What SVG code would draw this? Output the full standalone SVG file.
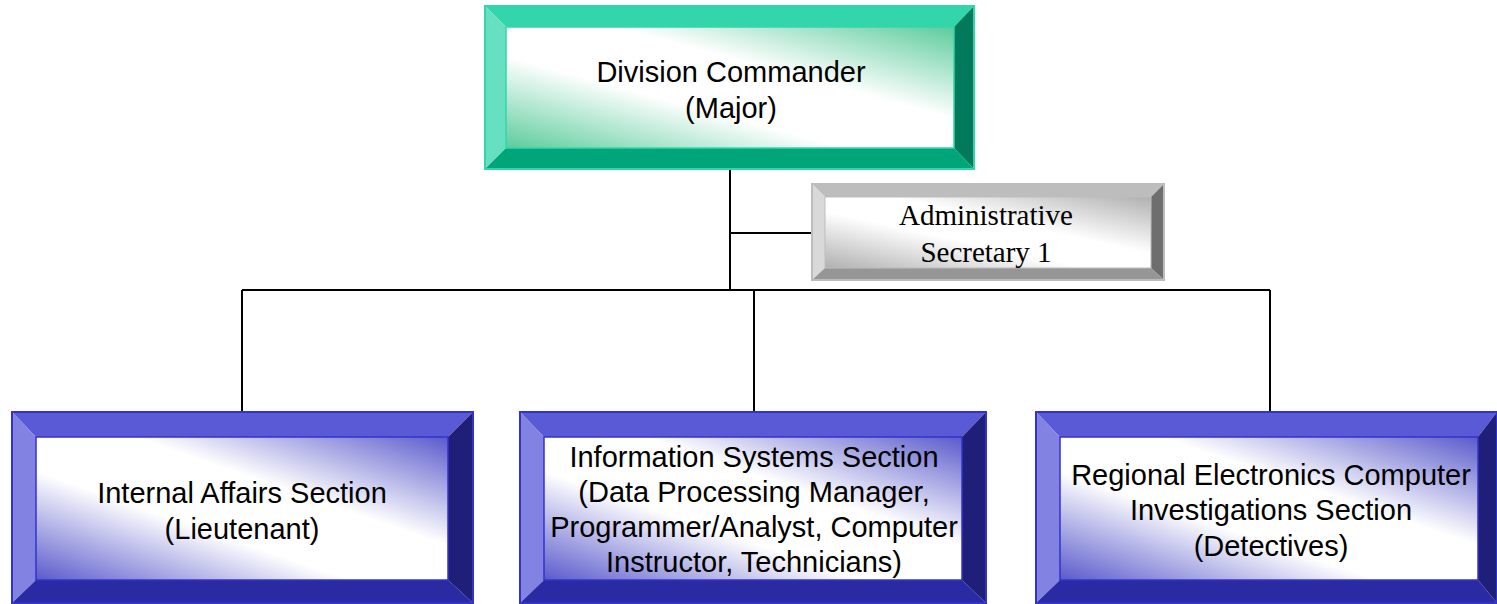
<svg xmlns="http://www.w3.org/2000/svg" width="1497" height="604" viewBox="0 0 1497 604">
<style>
.lbl{font-family:"Liberation Sans",Arial,sans-serif;font-size:29px;fill:#000;text-anchor:middle}
.ser{font-family:"Liberation Serif","Times New Roman",serif;font-size:29px;fill:#000;text-anchor:middle}
.conn{stroke:#000;stroke-width:2;fill:none}
.g-top{fill:#33d6aa}.g-left{fill:#66e0c0}.g-right{fill:#007a5a}.g-bot{fill:#00a67a}
.g-out{fill:none;stroke:#33d6aa;stroke-width:2}
.g-face{fill:url(#gGreen);stroke:#33d6aa;stroke-width:1.5}
.b-top{fill:#5a5ad6}.b-left{fill:#8282e2}.b-right{fill:#1f1f7a}.b-bot{fill:#2a2aa2}
.b-out{fill:none;stroke:#3333cc;stroke-width:2}
.b-face{fill:url(#gBlue);stroke:#3333cc;stroke-width:1.5}
.s-top{fill:#bdbdbd}.s-left{fill:#d9d9d9}.s-right{fill:#6e6e6e}.s-bot{fill:#969696}
.s-out{fill:none;stroke:#bdbdbd;stroke-width:2}
.s-face{fill:url(#gGray);stroke:#bdbdbd;stroke-width:1}
</style>
<defs>
<linearGradient id="gGreen" x1="1" y1="0" x2="0" y2="1">
<stop offset="0" stop-color="#5ccc9c"/><stop offset="0.38" stop-color="#ffffff"/><stop offset="0.62" stop-color="#ffffff"/><stop offset="1" stop-color="#5ccc9c"/>
</linearGradient>
<linearGradient id="gBlue" x1="1" y1="0" x2="0" y2="1">
<stop offset="0" stop-color="#5a5acc"/><stop offset="0.38" stop-color="#ffffff"/><stop offset="0.62" stop-color="#ffffff"/><stop offset="1" stop-color="#5a5acc"/>
</linearGradient>
<linearGradient id="gGray" x1="1" y1="0" x2="0" y2="1">
<stop offset="0" stop-color="#b0b0b0"/><stop offset="0.4" stop-color="#ffffff"/><stop offset="0.6" stop-color="#ffffff"/><stop offset="1" stop-color="#b0b0b0"/>
</linearGradient>
</defs>

<g id="connectors">
<line class="conn" x1="730" y1="169" x2="730" y2="290"/>
<line class="conn" x1="730" y1="233" x2="812" y2="233"/>
<line class="conn" x1="242" y1="290" x2="1270" y2="290"/>
<line class="conn" x1="242" y1="290" x2="242" y2="412"/>
<line class="conn" x1="754" y1="290" x2="754" y2="412"/>
<line class="conn" x1="1270" y1="290" x2="1270" y2="412"/>
</g>

<g id="division-commander">
<polygon class="g-top" points="485,6 974,6 954,27 506,27"/>
<polygon class="g-left" points="485,6 506,27 506,148 485,169"/>
<polygon class="g-right" points="974,6 974,169 954,148 954,27"/>
<polygon class="g-bot" points="485,169 506,148 954,148 974,169"/>
<rect class="g-out" x="485" y="6" width="489" height="163"/>
<rect class="g-face" x="506" y="27" width="448" height="121"/>
<text class="lbl" x="731" y="82">Division Commander</text>
<text class="lbl" x="731" y="118">(Major)</text>
</g>

<g id="admin-secretary">
<polygon class="s-top" points="812,184 1164,184 1151,197 825,197"/>
<polygon class="s-left" points="812,184 825,197 825,268 812,280"/>
<polygon class="s-right" points="1164,184 1164,280 1151,268 1151,197"/>
<polygon class="s-bot" points="812,280 825,268 1151,268 1164,280"/>
<rect class="s-out" x="812" y="184" width="352" height="96"/>
<rect class="s-face" x="825" y="197" width="326" height="71"/>
<text class="ser" x="986" y="225">Administrative</text>
<text class="ser" x="986" y="262">Secretary 1</text>
</g>

<g id="internal-affairs">
<polygon class="b-top" points="12,412 473,412 448,437 36,437"/>
<polygon class="b-left" points="12,412 36,437 36,580 12,603"/>
<polygon class="b-right" points="473,412 473,603 448,580 448,437"/>
<polygon class="b-bot" points="12,603 36,580 448,580 473,603"/>
<rect class="b-out" x="12" y="412" width="461" height="191"/>
<rect class="b-face" x="36" y="437" width="412" height="143"/>
<text class="lbl" x="242" y="503">Internal Affairs Section</text>
<text class="lbl" x="242" y="539">(Lieutenant)</text>
</g>

<g id="information-systems">
<polygon class="b-top" points="520,412 986,412 962,437 544,437"/>
<polygon class="b-left" points="520,412 544,437 544,580 520,603"/>
<polygon class="b-right" points="986,412 986,603 962,580 962,437"/>
<polygon class="b-bot" points="520,603 544,580 962,580 986,603"/>
<rect class="b-out" x="520" y="412" width="466" height="191"/>
<rect class="b-face" x="544" y="437" width="418" height="143"/>
<text class="lbl" x="754" y="467">Information Systems Section</text>
<text class="lbl" x="754" y="502">(Data Processing Manager,</text>
<text class="lbl" x="754" y="537">Programmer/Analyst, Computer</text>
<text class="lbl" x="754" y="572">Instructor, Technicians)</text>
</g>

<g id="regional-electronics">
<polygon class="b-top" points="1036,412 1497,412 1478,437 1060,437"/>
<polygon class="b-left" points="1036,412 1060,437 1060,580 1036,603"/>
<polygon class="b-right" points="1497,412 1497,603 1478,580 1478,437"/>
<polygon class="b-bot" points="1036,603 1060,580 1478,580 1497,603"/>
<rect class="b-out" x="1036" y="412" width="461" height="191"/>
<rect class="b-face" x="1060" y="437" width="418" height="143"/>
<text class="lbl" x="1271" y="485">Regional Electronics Computer</text>
<text class="lbl" x="1271" y="520">Investigations Section</text>
<text class="lbl" x="1271" y="556">(Detectives)</text>
</g>
</svg>
